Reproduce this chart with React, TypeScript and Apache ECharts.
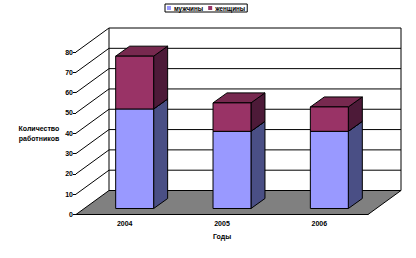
import React, { useEffect, useRef } from "react";
import * as echarts from "echarts";

const categories = ["2004", "2005", "2006"];
const men = [49, 38, 38];
const women = [26, 14, 12];
const seriesNames = ["мужчины", "женщины"];
const yMin = 0;
const yMax = 80;
const yStep = 10;

// depth of the 3D box (pixels)
const DX = 33;
const DY = -24;
const FX = 10;
const FY = -6;
const BDX = 14;
const BDY = -10;

const FONT = "Liberation Sans";

function barItem(front: string, side: string, top: string) {
  return (params: any, api: any) => {
    const i = api.value(0);
    const c0 = api.coord([i, api.value(1)]);
    const c1 = api.coord([i, api.value(2)]);
    const bw = api.size([1, 0])[0] * 0.39;
    const xL = c0[0] - bw / 2 + FX;
    const xR = xL + bw;
    const yB = c0[1] + FY;
    const yT = c1[1] + FY;
    const st = { stroke: "#000", lineWidth: 1 };
    return {
      type: "group",
      children: [
        {
          type: "polygon",
          shape: { points: [[xR, yB], [xR + BDX, yB + BDY], [xR + BDX, yT + BDY], [xR, yT]] },
          style: { fill: side, ...st },
        },
        {
          type: "polygon",
          shape: { points: [[xL, yT], [xR, yT], [xR + BDX, yT + BDY], [xL + BDX, yT + BDY]] },
          style: { fill: top, ...st },
        },
        {
          type: "rect",
          shape: { x: xL, y: yT, width: bw, height: yB - yT },
          style: { fill: front, ...st },
        },
      ],
    };
  };
}

export default function App() {
  const ref = useRef<HTMLDivElement>(null);
  useEffect(() => {
    if (!ref.current) return;
    const chart = echarts.init(ref.current, undefined, { renderer: "svg" });

    const menData = categories.map((_, i) => [i, 0, men[i]]);
    const womenData = categories.map((_, i) => [i, men[i], men[i] + women[i]]);

    const wallRender = (params: any, api: any) => {
      const cs = params.coordSys;
      const x0 = cs.x;
      const x1 = cs.x + cs.width;
      const y = (v: number) => api.coord([0, v])[1];
      const y0 = y(yMin);
      const yT = y(yMax);
      const children: any[] = [];
      children.push({
        type: "polygon",
        shape: { points: [[x0, y0], [x0 + DX, y0 + DY], [x0 + DX, yT + DY], [x0, yT]] },
        style: { fill: "#fff" },
      });
      children.push({
        type: "rect",
        shape: { x: x0 + DX, y: yT + DY, width: x1 - x0, height: y0 - yT },
        style: { fill: "#fff" },
      });
      children.push({
        type: "polygon",
        shape: { points: [[x0, y0], [x1, y0], [x1 + DX, y0 + DY], [x0 + DX, y0 + DY]] },
        style: { fill: "#808080", stroke: "#000", lineWidth: 1 },
      });
      for (let v = yMin + yStep; v <= yMax; v += yStep) {
        const yy = y(v);
        children.push({
          type: "polyline",
          shape: { points: [[x0, yy], [x0 + DX, yy + DY], [x1 + DX, yy + DY]] },
          style: { fill: null, stroke: "#000", lineWidth: 1 },
        });
      }
      children.push({
        type: "line",
        shape: { x1: x0 + DX, y1: y0 + DY, x2: x0 + DX, y2: yT + DY },
        style: { stroke: "#000", lineWidth: 1 },
      });
      children.push({
        type: "line",
        shape: { x1: x1 + DX, y1: y0 + DY, x2: x1 + DX, y2: yT + DY },
        style: { stroke: "#000", lineWidth: 1 },
      });
      return { type: "group", children };
    };

    chart.setOption({
      animation: false,
      backgroundColor: "#fff",
      grid: { left: 76, right: 48, top: 52, bottom: 43.5, containLabel: false, outerBoundsMode: "none" },
      legend: {
        data: seriesNames,
        left: 165,
        top: 4,
        orient: "horizontal",
        borderColor: "#000",
        borderWidth: 1,
        borderRadius: 0,
        padding: [1, 2, 1, 2],
        itemWidth: 4,
        itemHeight: 4,
        itemGap: 5,
        icon: "rect",
        textStyle: { fontSize: 6.3, fontFamily: FONT, fontWeight: "bold", color: "#000", padding: [0, 0, 0, -2], lineHeight: 6 },
      },
      xAxis: {
        type: "category",
        data: categories,
        name: "Годы",
        nameLocation: "middle",
        nameGap: 18,
        nameTextStyle: { fontSize: 7, fontFamily: FONT, fontWeight: "bold", color: "#000" },
        axisLine: { lineStyle: { color: "#000", width: 1 } },
        axisTick: { length: 4, lineStyle: { color: "#000" } },
        axisLabel: { fontSize: 7, fontFamily: FONT, fontWeight: "bold", color: "#000", margin: 5 },
        splitLine: { show: false },
      },
      yAxis: {
        type: "value",
        min: yMin,
        max: yMax,
        interval: yStep,
        name: "Количество\nработников",
        nameLocation: "middle",
        nameRotate: 0,
        nameGap: 16,
        nameTextStyle: { fontSize: 7, fontFamily: FONT, fontWeight: "bold", color: "#000", lineHeight: 10, align: "right" },
        axisLine: { show: true, lineStyle: { color: "#000", width: 1 } },
        axisTick: { show: true, length: 3, lineStyle: { color: "#000" } },
        axisLabel: { fontSize: 7, fontFamily: FONT, fontWeight: "bold", color: "#000", margin: 3 },
        splitLine: { show: false },
      },
      series: [
        {
          type: "custom",
          name: "walls",
          z: 1,
          silent: true,
          renderItem: wallRender,
          data: [[0]],
          encode: { x: -1, y: -1 },
        },
        {
          type: "custom",
          name: seriesNames[0],
          z: 3,
          itemStyle: { color: "#9999FF" },
          renderItem: barItem("#9999FF", "#4A4F85", "#6F6FBF"),
          data: menData,
          encode: { x: 0, y: [1, 2] },
        },
        {
          type: "custom",
          name: seriesNames[1],
          z: 4,
          itemStyle: { color: "#993366" },
          renderItem: barItem("#993366", "#4D1A38", "#77294F"),
          data: womenData,
          encode: { x: 0, y: [1, 2] },
        },
      ],
    });
    return () => chart.dispose();
  }, []);
  return (
    <div
      ref={ref}
      style={{ position: "fixed", left: 0, top: 0, width: 416, height: 258 }}
    />
  );
}
